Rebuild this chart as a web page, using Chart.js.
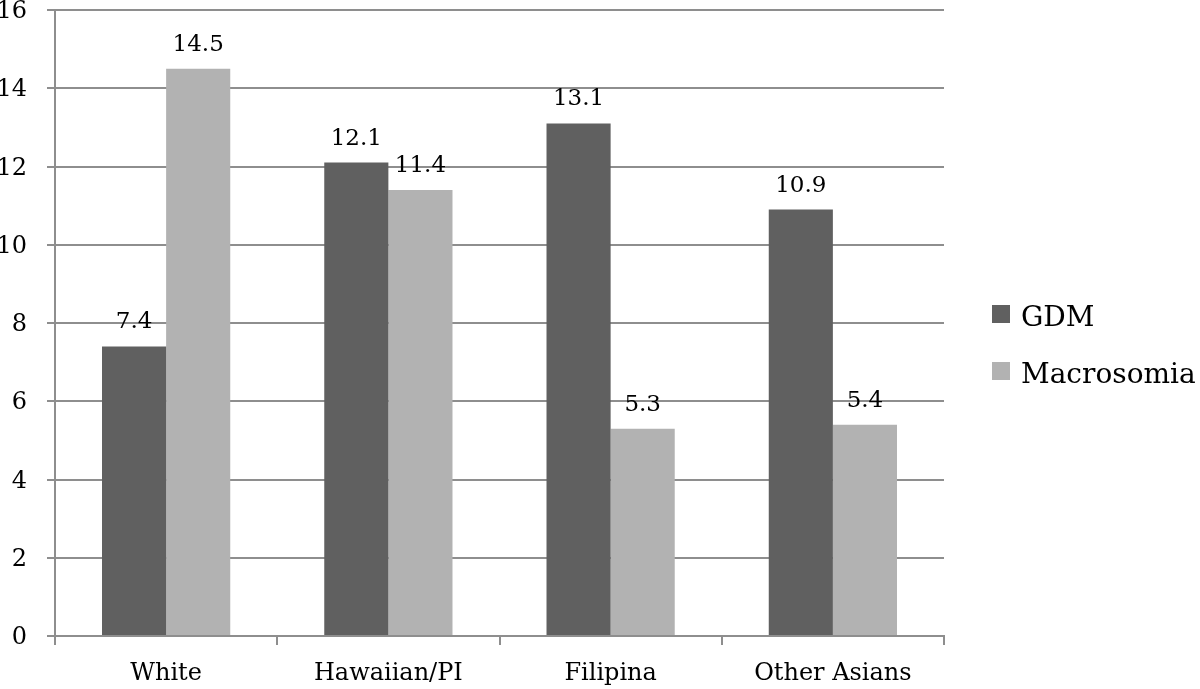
<!DOCTYPE html>
<html>
<head>
<meta charset="utf-8">
<script src="https://cdn.jsdelivr.net/npm/chart.js@4/dist/chart.umd.min.js"></script>
<style>
  html, body { margin: 0; padding: 0; background: #fff; }
  #wrap { width: 1200px; height: 689px; }
</style>
</head>
<body>
<div id="wrap"><canvas id="chart"></canvas></div>
<script>
const categories = ["White", "Hawaiian/PI", "Filipina", "Other Asians"];
const gdm = [7.4, 12.1, 13.1, 10.9];
const macrosomia = [14.5, 11.4, 5.3, 5.4];
const seriesNames = ["GDM", "Macrosomia"];
const yTicks = { min: 0, max: 16, step: 2 };

const FONT = "'DejaVu Serif', serif";
const gridColor = "#8e8e8e";

// value labels above each bar
const valueLabels = {
  id: "valueLabels",
  afterDatasetsDraw(chart) {
    const ctx = chart.ctx;
    ctx.save();
    ctx.font = "23px " + FONT;
    ctx.fillStyle = "#000";
    ctx.textAlign = "center";
    ctx.textBaseline = "alphabetic";
    chart.data.datasets.forEach((ds, i) => {
      chart.getDatasetMeta(i).data.forEach((bar, j) => {
        ctx.fillText(String(ds.data[j]), bar.x, bar.y - 18);
      });
    });
    ctx.restore();
  }
};

// legend on the right
const sideLegend = {
  id: "sideLegend",
  afterDraw(chart) {
    const ctx = chart.ctx;
    ctx.save();
    ctx.font = "28px " + FONT;
    ctx.textBaseline = "alphabetic";
    ctx.textAlign = "left";
    const ys = [305, 362];
    chart.data.datasets.forEach((ds, i) => {
      ctx.fillStyle = ds.backgroundColor;
      ctx.fillRect(992, ys[i], 18, 18);
      ctx.fillStyle = "#000";
      ctx.fillText(ds.label, 1021, ys[i] + 21);
    });
    ctx.restore();
  }
};

new Chart(document.getElementById("chart"), {
  type: "bar",
  data: {
    labels: categories,
    datasets: [
      { label: seriesNames[0], data: gdm, backgroundColor: "#606060" },
      { label: seriesNames[1], data: macrosomia, backgroundColor: "#b2b2b2" }
    ]
  },
  options: {
    responsive: true,
    maintainAspectRatio: false,
    animation: false,
    layout: { padding: { left: 0, right: 256, top: 0, bottom: 0 } },
    datasets: { bar: { categoryPercentage: 0.577, barPercentage: 1.0 } },
    plugins: {
      legend: { display: false },
      tooltip: { enabled: false }
    },
    scales: {
      x: {
        grid: { display: true, drawOnChartArea: false, color: gridColor, lineWidth: 2, tickLength: 9, offset: true },
        border: { display: true, color: gridColor, width: 2 },
        ticks: { color: "#000", font: { family: FONT, size: 24 }, padding: 14 },
        afterFit(s) { s.height = 53; }
      },
      y: {
        min: yTicks.min,
        max: yTicks.max,
        grid: { color: gridColor, lineWidth: 2, tickLength: 8 },
        border: { display: true, color: gridColor, width: 2 },
        ticks: { stepSize: yTicks.step, color: "#000", font: { family: FONT, size: 24 }, padding: 20, labelOffset: 2 },
        afterFit(s) { s.width = 55; s.paddingTop = 10; }
      }
    }
  },
  plugins: [valueLabels, sideLegend]
});
</script>
</body>
</html>
